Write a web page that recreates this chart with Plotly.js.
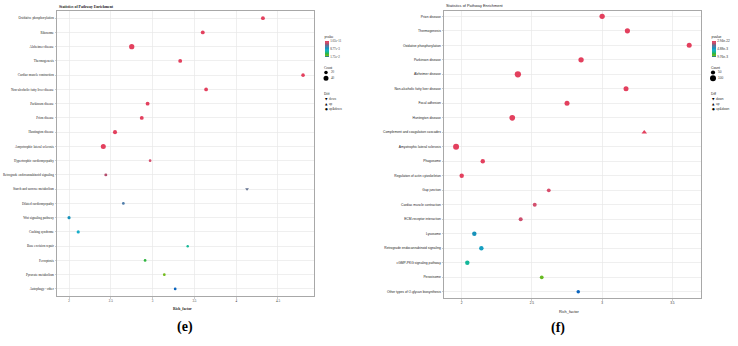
<!DOCTYPE html>
<html>
<head>
<meta charset="utf-8">
<script src="https://cdn.plot.ly/plotly-3.0.1.min.js"></script>
<style>
html,body{margin:0;padding:0;background:#fff;}
#chart{width:738px;height:346px;}
</style>
</head>
<body>
<div id="chart"></div>
<script>
// ---- Panel (e): KEGG pathway enrichment ----
const pathwaysE = [
  "Oxidative phosphorylation", "Ribosome", "Alzheimer disease", "Thermogenesis",
  "Cardiac muscle contraction", "Non-alcoholic fatty liver disease", "Parkinson disease",
  "Prion disease", "Huntington disease", "Amyotrophic lateral sclerosis",
  "Hypertrophic cardiomyopathy", "Retrograde endocannabinoid signaling",
  "Starch and sucrose metabolism", "Dilated cardiomyopathy", "Wnt signaling pathway",
  "Cushing syndrome", "Base excision repair", "Ferroptosis", "Pyruvate metabolism",
  "Autophagy - other"
];
const richE  = [4.32, 3.60, 2.75, 3.33, 4.80, 3.64, 2.94, 2.87, 2.55, 2.41,
                2.97, 2.44, 4.13, 2.65, 2.00, 2.11, 3.42, 2.91, 3.14, 3.27];
const pvalE  = [1.03e-11, 3.2e-9, 5.6e-10, 2.4e-8, 8.1e-8, 1.5e-7, 4.2e-7, 9.3e-7, 2.1e-6, 3.6e-6,
                1.4e-3, 2.8e-3, 4.55e-3, 5.95e-3, 7.9e-3, 9.8e-3, 1.19e-2, 1.40e-2, 1.61e-2, 1.75e-2];
const countE = [24, 24, 44, 24, 20, 22, 24, 24, 26, 40,
                12, 14, 18, 12, 16, 16, 10, 12, 12, 12];
const diffE  = ["up&down", "up&down", "up&down", "up&down", "up&down", "up&down", "up&down",
                "up&down", "up&down", "up&down", "up&down", "up&down", "down", "up&down",
                "up&down", "up&down", "up&down", "up&down", "up&down", "up&down"];
const xTicksE = [2, 2.5, 3, 3.5, 4, 4.5];
const xTickTextE = ["2", "2.5", "3", "3.5", "4", "4.5"];
const pTicksE = [1.03e-11, 8.77e-3, 1.75e-2];
const pTickTextE = ["1.03e-11", "8.77e-3", "1.75e-2"];
const countKeysE = [20, 40];

// ---- Panel (f): KEGG pathway enrichment ----
const pathwaysF = [
  "Prion disease", "Thermogenesis", "Oxidative phosphorylation", "Parkinson disease",
  "Alzheimer disease", "Non-alcoholic fatty liver disease", "Focal adhesion",
  "Huntington disease", "Complement and coagulation cascades", "Amyotrophic lateral sclerosis",
  "Phagosome", "Regulation of actin cytoskeleton", "Gap junction", "Cardiac muscle contraction",
  "ECM-receptor interaction", "Lysosome", "Retrograde endocannabinoid signaling",
  "cGMP-PKG signaling pathway", "Peroxisome", "Other types of O-glycan biosynthesis"
];
const richF  = [3.00, 3.18, 3.62, 2.85, 2.40, 3.17, 2.75, 2.36, 3.30, 1.96,
                2.15, 2.00, 2.62, 2.52, 2.42, 2.09, 2.14, 2.04, 2.57, 2.83];
const pvalF  = [2.94e-22, 1.1e-18, 4.6e-17, 2.3e-16, 8.7e-16, 3.9e-14, 1.2e-9, 5.4e-12, 2.6e-8, 7.1e-11,
                3.3e-7, 1.8e-6, 6.8e-4, 8.4e-4, 9.8e-4, 4.39e-3, 4.88e-3, 6.54e-3, 8.78e-3, 9.76e-3];
const countF = [80, 75, 70, 80, 110, 70, 70, 90, 65, 100,
                55, 55, 40, 45, 45, 55, 55, 55, 40, 35];
const diffF  = ["up&down", "up&down", "up&down", "up&down", "up&down", "up&down", "up&down",
                "up&down", "up", "up&down", "up&down", "up&down", "up&down", "up&down",
                "up&down", "up&down", "up&down", "up&down", "up&down", "up&down"];
const xTicksF = [2, 2.5, 3, 3.5];
const xTickTextF = ["2", "2.5", "3", "3.5"];
const pTicksF = [2.94e-22, 4.88e-3, 9.76e-3];
const pTickTextF = ["2.94e-22", "4.88e-3", "9.76e-3"];
const countKeysF = [50, 100];

const diffKeys = ["down", "up", "up&down"];
const diffSymbol = {"down": "triangle-down", "up": "triangle-up", "up&down": "circle"};
const diffGlyph = {"down": "\u25BC", "up": "\u25B2", "up&down": "\u25CF"};

// colour ramp shared by both panels (0 = largest p-value, 1 = smallest)
const ramp = [
  [0.00, "#0A64BE"], [0.08, "#72BB1C"], [0.20, "#30B640"], [0.32, "#14B896"],
  [0.44, "#18AECA"], [0.55, "#1792BA"], [0.66, "#4F7DAA"], [0.74, "#63718F"],
  [0.84, "#B44E6E"], [0.92, "#D6506E"], [1.00, "#E3405E"]
];

const W = 738, H = 346;
const fx = x => x / W;          // pixel -> paper (horizontal)
const fy = y => 1 - y / H;      // pixel -> paper (vertical)

const SERIF = "Liberation Serif, Times New Roman, serif";
const SANS = "Liberation Sans, Arial, sans-serif";

// area sizing: rendered diameter = sqrt(2 * count / sizeref)
const sizerefE = 3.2, sizerefF = 5.6;
const diam = (c, ref) => Math.sqrt(2 * c / ref);

// p-values are negated so the smallest value sits at the top of the colour bar
function panelTrace(xs, ys, pv, cnt, diff, ref, xa, ya, pTicks, pText, cbx, font) {
  return {
    type: "scatter", mode: "markers", x: xs, y: ys, xaxis: xa, yaxis: ya,
    showlegend: false, hoverinfo: "x+y",
    marker: {
      size: cnt, sizemode: "area", sizeref: ref, opacity: 1,
      symbol: diff.map(d => diffSymbol[d]),
      color: pv.map(p => -p),
      cmin: -pTicks[2], cmax: -pTicks[0],
      colorscale: ramp, line: {width: 0},
      showscale: true,
      colorbar: {
        x: fx(cbx), xanchor: "left", y: fy(44.5), yanchor: "middle",
        len: 25, lenmode: "pixels", thickness: 3.5, thicknessmode: "pixels",
        xpad: 0, ypad: 0, outlinewidth: 0, ticks: "", ticklabelpad: 1,
        tickvals: pTicks.map(p => -p), ticktext: pText,
        tickfont: {size: 3.2, family: font, color: "#333"},
        title: {text: "pvalue", side: "top", font: {size: 3.4, family: font, color: "#222"}}
      }
    }
  };
}

const traces = [
  panelTrace(richE, pathwaysE, pvalE, countE, diffE, sizerefE, "x", "y", pTicksE, pTickTextE, 324.5, SERIF),
  panelTrace(richF, pathwaysF, pvalF, countF, diffF, sizerefF, "x2", "y2", pTicksF, pTickTextF, 711.5, SANS)
];

function xAxis(domain, range, tv, tt, font, anchor) {
  return {
    domain: domain, range: range, anchor: anchor, tickvals: tv, ticktext: tt,
    showgrid: true, gridcolor: "#E8E8E8", gridwidth: 0.7, zeroline: false,
    showline: true, mirror: true, linecolor: "#A8A8A8", linewidth: 1,
    ticks: "outside", ticklen: 1.5, tickwidth: 0.5, tickcolor: "#999",
    tickfont: {size: 3.2, family: font, color: "#333"}
  };
}
function yAxis(domain, cats, range, font, anchor) {
  return {
    domain: domain, anchor: anchor, type: "category",
    categoryorder: "array", categoryarray: cats, range: range,
    showgrid: true, gridcolor: "#E8E8E8", gridwidth: 0.7, zeroline: false,
    showline: true, mirror: true, linecolor: "#A8A8A8", linewidth: 1,
    ticks: "outside", ticklen: 1.5, tickwidth: 0.5, tickcolor: "#999",
    tickfont: {size: 3.3, family: font, color: "#222"}
  };
}

// legend blocks (Count sizes and Diff glyphs) drawn beside each colour bar
const annotations = [];
const shapes = [];
function legendBlock(x0, keys, ref, font) {
  annotations.push({xref: "paper", yref: "paper", x: fx(x0 - 3), y: fy(67.5), xanchor: "left", yanchor: "middle",
    text: "Count", showarrow: false, font: {size: 3.4, family: font, color: "#222"}});
  const ys = [72.5, 78.3];
  keys.forEach((k, i) => {
    const d = diam(k, ref);
    shapes.push({type: "circle", xref: "paper", yref: "paper",
      x0: fx(x0 + 1.5 - d / 2), x1: fx(x0 + 1.5 + d / 2), y0: fy(ys[i] + d / 2), y1: fy(ys[i] - d / 2),
      fillcolor: "#000", line: {width: 0}});
    annotations.push({xref: "paper", yref: "paper", x: fx(x0 + 4.5), y: fy(ys[i]), xanchor: "left", yanchor: "middle",
      text: String(k), showarrow: false, font: {size: 3.2, family: font, color: "#333"}});
  });
  annotations.push({xref: "paper", yref: "paper", x: fx(x0 - 3), y: fy(93.5), xanchor: "left", yanchor: "middle",
    text: "Diff", showarrow: false, font: {size: 3.4, family: font, color: "#222"}});
  const dy = [98.8, 104, 109];
  diffKeys.forEach((k, i) => {
    annotations.push({xref: "paper", yref: "paper", x: fx(x0 + 1.5), y: fy(dy[i]), xanchor: "center", yanchor: "middle",
      text: diffGlyph[k], showarrow: false, font: {size: 3.2, family: "DejaVu Sans", color: "#000"}});
    annotations.push({xref: "paper", yref: "paper", x: fx(x0 + 2.8), y: fy(dy[i]), xanchor: "left", yanchor: "middle",
      text: k.replace("&", "&amp;"), showarrow: false, font: {size: 3.2, family: font, color: "#333"}});
  });
}
legendBlock(324.5, countKeysE, sizerefE, SERIF);
legendBlock(711.5, countKeysF, sizerefF, SANS);

// panel titles, axis titles and captions
annotations.push(
  {xref: "paper", yref: "paper", x: fx(56.5), y: fy(6.8), xanchor: "left", yanchor: "middle",
   text: "<b>Statistics of Pathway Enrichment</b>", showarrow: false, font: {size: 3.8, family: SERIF, color: "#222"}},
  {xref: "paper", yref: "paper", x: fx(444), y: fy(5.8), xanchor: "left", yanchor: "middle",
   text: "Statistics of Pathway Enrichment", showarrow: false, font: {size: 3.9, family: SANS, color: "#222"}},
  {xref: "paper", yref: "paper", x: fx(182.5), y: fy(308.7), xanchor: "center", yanchor: "middle",
   text: "<b>Rich_factor</b>", showarrow: false, font: {size: 3.7, family: SERIF, color: "#222"}},
  {xref: "paper", yref: "paper", x: fx(569), y: fy(311), xanchor: "center", yanchor: "middle",
   text: "Rich_factor", showarrow: false, font: {size: 3.9, family: SANS, color: "#222"}},
  {xref: "paper", yref: "paper", x: fx(185), y: fy(327), xanchor: "center", yanchor: "middle",
   text: "<b>(e)</b>", showarrow: false, font: {size: 14, family: SERIF, color: "#000"}},
  {xref: "paper", yref: "paper", x: fx(558), y: fy(328), xanchor: "center", yanchor: "middle",
   text: "<b>(f)</b>", showarrow: false, font: {size: 14, family: SERIF, color: "#000"}}
);

const layout = {
  width: W, height: H,
  margin: {l: 0, r: 0, t: 0, b: 0},
  paper_bgcolor: "#fff", plot_bgcolor: "#fff",
  showlegend: false,
  xaxis:  xAxis([fx(57), fx(314)], [1.856, 4.931], xTicksE, xTickTextE, SERIF, "y"),
  yaxis:  yAxis([fy(296), fy(11)], pathwaysE, [19.5, -0.5], SERIF, "x"),
  xaxis2: xAxis([fx(444), fx(701)], [1.874, 3.704], xTicksF, xTickTextF, SANS, "y2"),
  yaxis2: yAxis([fy(298), fy(11)], pathwaysF, [19.43, -0.37], SANS, "x2"),
  annotations: annotations,
  shapes: shapes
};

Plotly.newPlot("chart", traces, layout, {displayModeBar: false, staticPlot: true});
</script>
</body>
</html>
